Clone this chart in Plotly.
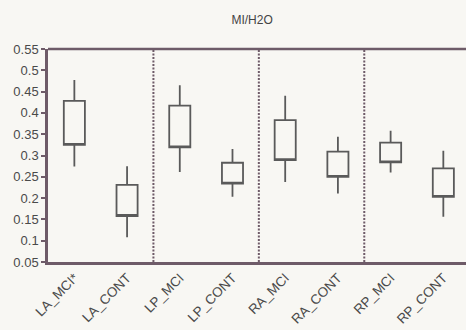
import plotly.graph_objects as go

categories = ["LA_MCI*", "LA_CONT", "LP_MCI", "LP_CONT", "RA_MCI", "RA_CONT", "RP_MCI", "RP_CONT"]
upper = [0.477, 0.275, 0.465, 0.315, 0.440, 0.344, 0.358, 0.311]
q3 = [0.428, 0.231, 0.417, 0.283, 0.383, 0.309, 0.330, 0.270]
q1 = [0.325, 0.158, 0.319, 0.234, 0.289, 0.250, 0.284, 0.203]
lower = [0.274, 0.108, 0.261, 0.203, 0.238, 0.211, 0.260, 0.156]
separators = [1.5, 3.5, 5.5]
yticks = [0.05, 0.1, 0.15, 0.2, 0.25, 0.3, 0.35, 0.4, 0.45, 0.5, 0.55]

bg = "#f8f7f3"
axis_col = "#6e5b68"
font_fam = "Liberation Sans, Arial, sans-serif"

fig = go.Figure()
fig.add_trace(go.Box(
    x=list(range(len(categories))),
    q1=q1, median=q1, q3=q3,
    lowerfence=lower, upperfence=upper,
    width=0.4, whiskerwidth=0,
    fillcolor="rgba(0,0,0,0)",
    line=dict(color="#5a5a5a", width=1.8),
    hoverinfo="skip",
    showlegend=False,
))

for s in separators:
    fig.add_vline(x=s, line=dict(color=axis_col, width=2, dash="2px,1.5px"))

fig.add_shape(type="line", xref="paper", yref="paper", x0=0, x1=1, y0=1, y1=1,
              line=dict(color=axis_col, width=2.5))

fig.update_layout(
    width=466, height=330,
    margin=dict(l=48, r=0, t=49, b=68, autoexpand=False),
    paper_bgcolor=bg, plot_bgcolor="rgba(0,0,0,0)",
    title=dict(text="MI/H2O", x=0.541, xanchor="center", y=0.939, yanchor="middle",
               font=dict(family=font_fam, size=12, color="#444")),
    font=dict(family=font_fam, size=13, color="#4a4a4a"),
    xaxis=dict(
        range=[-0.5, 7.43], automargin=False,
        tickmode="array", tickvals=list(range(len(categories))), ticktext=categories,
        tickangle=-45, showgrid=False, zeroline=False,
        showline=True, linecolor=axis_col, linewidth=2.5, mirror=False,
        ticks="", tickfont=dict(size=13.5, color="#4a4a4a"),
    ),
    yaxis=dict(
        range=[0.05, 0.55], automargin=False,
        tickmode="array", tickvals=yticks, ticktext=[("%g" % v) for v in yticks],
        showgrid=False, zeroline=False,
        showline=True, linecolor=axis_col, linewidth=2.5, mirror=False,
        ticks="outside", ticklen=4, tickcolor=axis_col, tickwidth=1.5,
        tickfont=dict(size=13, color="#4a4a4a"),
    ),
)

fig.write_html(
    "out.html",
    config={"displayModeBar": False},
    post_script="document.body.style.margin='0';document.body.style.overflow='hidden';",
)
